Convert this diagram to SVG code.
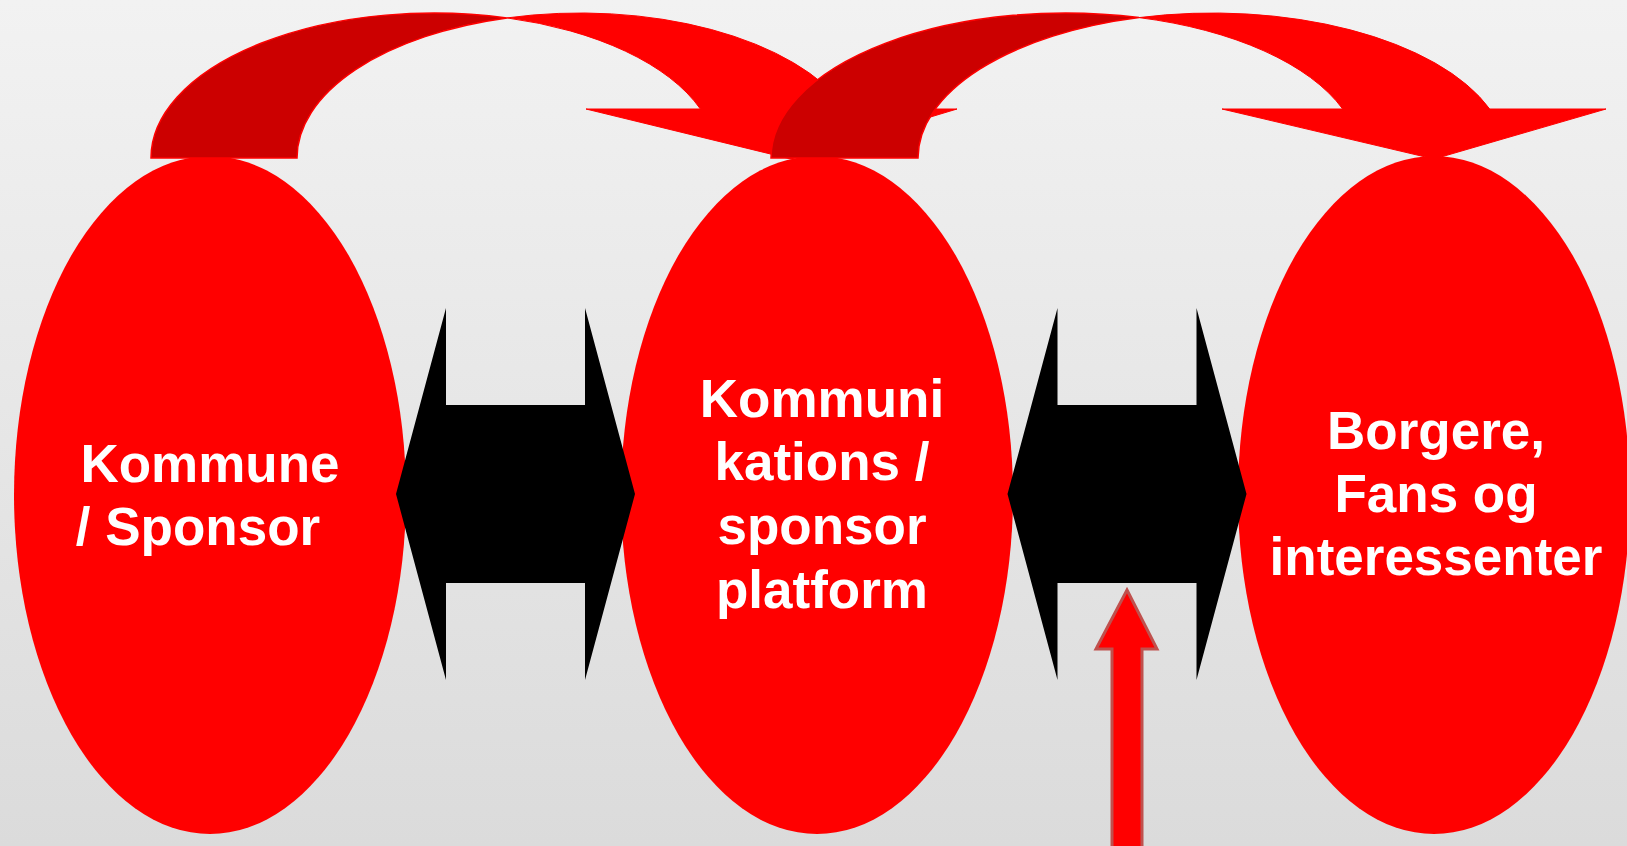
<svg xmlns="http://www.w3.org/2000/svg" width="1627" height="846" viewBox="0 0 1627 846">
<defs>
<linearGradient id="bg" x1="0" y1="0" x2="0" y2="1">
<stop offset="0" stop-color="#f2f2f2"/>
<stop offset="1" stop-color="#dbdbdb"/>
</linearGradient>
</defs>
<style>
.node{fill:#ff0000}
.lbl{font-family:"Liberation Sans",Arial,sans-serif;font-weight:bold;font-size:53px;fill:#ffffff;text-anchor:middle}
.tail{fill:#cc0000;stroke:#ff0000;stroke-width:1.5}
.front{fill:#ff0000;stroke:#ff0000;stroke-width:1}
.dbl{fill:#000000}
.up{fill:#ff0000;stroke:#c0504d;stroke-width:3}
</style>
<rect x="0" y="0" width="1627" height="846" fill="url(#bg)"/>
<g id="node-kommune">
<ellipse class="node" cx="210" cy="495" rx="196" ry="339"/>
<text class="lbl"><tspan x="210" y="482">Kommune</tspan><tspan x="198" y="545">/ Sponsor</tspan></text>
</g>
<g id="node-platform">
<ellipse class="node" cx="817" cy="495" rx="196" ry="339"/>
<text class="lbl"><tspan x="822" y="417">Kommuni</tspan><tspan x="822" y="480">kations /</tspan><tspan x="822" y="544">sponsor</tspan><tspan x="822" y="608">platform</tspan></text>
</g>
<g id="node-borgere">
<ellipse class="node" cx="1434" cy="495" rx="196" ry="339"/>
<text class="lbl"><tspan x="1436" y="449">Borgere,</tspan><tspan x="1436" y="512">Fans og</tspan><tspan x="1436" y="575">interessenter</tspan></text>
</g>
<g id="connectors">
<g id="curved-1">
<path class="tail" d="M151,158 A283,145 0 0 1 507,17.9 A283,145 0 0 0 297,158 Z"/>
<path class="front" d="M507,17.9 A283,145 0 0 1 846.4,109 L957,109 L791,159 L586,109 L700.4,109 A283,145 0 0 0 507,17.9 Z"/>
</g>
<g id="curved-2">
<path class="tail" d="M771,158 A294.5,145 0 0 1 1139,17.6 A294.5,145 0 0 0 918,158 Z"/>
<path class="front" d="M1139,17.6 A294.5,145 0 0 1 1489.7,109 L1606,109 L1434,159 L1222,109 L1342.7,109 A294.5,145 0 0 0 1139,17.6 Z"/>
</g>
<polygon class="dbl" points="396,494 446,308 446,405 585,405 585,308 635,494 585,680 585,583 446,583 446,680"/>
<polygon class="dbl" points="1007.5,494 1057.5,308 1057.5,405 1196.5,405 1196.5,308 1246.5,494 1196.5,680 1196.5,583 1057.5,583 1057.5,680"/>
<polygon class="up" points="1127,590 1157,649 1142,649 1142,850 1112,850 1112,649 1096,649"/>
</g>
</svg>
